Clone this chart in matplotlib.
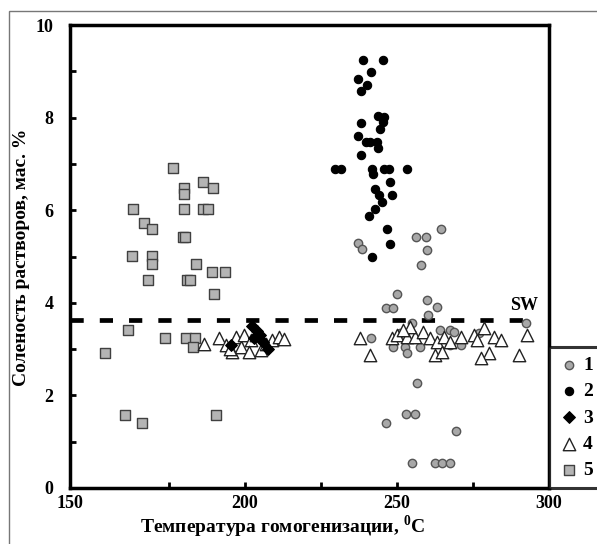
import matplotlib
matplotlib.use('Agg')
import matplotlib.pyplot as plt
from matplotlib.patches import Rectangle

plt.rcParams['font.family'] = ['Liberation Serif', 'DejaVu Serif']
plt.rcParams['font.weight'] = 'bold'
plt.rcParams['mathtext.fontset'] = 'custom'
plt.rcParams['mathtext.rm'] = 'Liberation Serif:bold'
plt.rcParams['mathtext.bf'] = 'Liberation Serif:bold'

# 1 - серые кружки
t1 = [237.2, 238.5, 256.3, 259.4, 264.6, 259.8, 257.8, 249.9, 246.4, 248.8, 259.8, 263.3,
      260.2, 292.3, 241.4, 256.7, 253.0, 256.0, 246.4, 269.5, 254.9, 262.4, 264.7, 267.3,
      248.8, 252.6, 253.2, 257.6, 251.0, 264.2, 267.5, 254.9, 268.6, 270.9, 276.9, 267.5]
s1 = [5.29, 5.16, 5.42, 5.42, 5.59, 5.15, 4.82, 4.20, 3.89, 3.89, 4.05, 3.90,
      3.74, 3.57, 3.23, 2.26, 1.59, 1.59, 1.41, 1.24, 0.53, 0.53, 0.53, 0.53,
      3.05, 3.05, 2.91, 3.05, 3.34, 3.41, 3.41, 3.56, 3.38, 3.09, 3.34, 3.09]

# 2 - чёрные кружки
t2 = [238.8, 245.5, 241.4, 237.0, 240.0, 238.3, 243.6, 245.7, 245.3, 238.3, 244.4, 237.0,
      239.7, 241.1, 243.5, 243.6, 238.3, 229.5, 231.5, 241.6, 245.7, 247.5, 253.4, 242.2,
      247.7, 242.7, 244.0, 248.2, 244.9, 242.7, 240.7, 246.8, 247.7, 241.6]
s2 = [9.24, 9.24, 8.98, 8.83, 8.70, 8.57, 8.03, 8.02, 7.90, 7.88, 7.76, 7.61,
      7.48, 7.48, 7.48, 7.35, 7.19, 6.90, 6.90, 6.90, 6.90, 6.90, 6.90, 6.78,
      6.61, 6.46, 6.33, 6.33, 6.18, 6.03, 5.88, 5.59, 5.28, 5.00]

# 3 - чёрные ромбы
t3 = [202.2, 204.0, 205.0, 203.0, 206.0, 207.4, 195.5]
s3 = [3.50, 3.40, 3.30, 3.25, 3.15, 3.00, 3.08]

# 4 - белые треугольники
t4 = [186.4, 191.4, 193.6, 196.9, 198.6, 199.7, 201.9, 203.5, 195.8, 201.3, 205.2, 209.0,
      211.3, 194.9, 206.9, 212.9,
      237.7, 241.1, 248.2, 249.9, 253.2, 256.0, 258.7, 260.9, 263.1, 265.3, 267.5, 262.6,
      264.8, 254.3, 252.1, 270.9, 275.3, 278.6, 281.9, 284.1, 280.2, 277.5, 292.9, 290.2,
      276.4]
s4 = [3.12, 3.23, 3.09, 3.27, 3.05, 3.30, 3.20, 3.30, 2.94, 2.94, 2.98, 3.20,
      3.27, 3.00, 3.12, 3.21,
      3.23, 2.87, 3.23, 3.30, 3.27, 3.27, 3.38, 3.23, 3.16, 3.27, 3.16, 2.87,
      2.94, 3.48, 3.41, 3.27, 3.30, 3.45, 3.27, 3.20, 2.91, 2.80, 3.30, 2.87,
      3.20]

# 5 - серые квадраты
t5 = [176.2, 179.9, 179.9, 186.2, 189.3, 163.2, 179.9, 186.2, 187.9, 166.7, 169.4, 179.5,
      180.3, 162.7, 169.4, 169.4, 183.9, 189.0, 193.4, 168.2, 180.9, 182.0, 189.7, 161.6,
      173.5, 180.7, 183.4, 182.8, 154.0, 160.5, 166.2, 190.3]
s5 = [6.91, 6.49, 6.34, 6.60, 6.47, 6.03, 6.03, 6.03, 6.03, 5.73, 5.59, 5.43,
      5.43, 5.01, 5.01, 4.83, 4.83, 4.67, 4.67, 4.49, 4.49, 4.49, 4.20, 3.41,
      3.23, 3.23, 3.23, 3.05, 2.92, 1.58, 1.41, 1.58]

sw_level = 3.63

fig = plt.figure(figsize=(5.97, 5.44), dpi=100)
ax = fig.add_axes([70/597, 56/544, 479/597, 463/544])

ax.axhline(sw_level, xmin=0, xmax=0.967, color='black', lw=3.4, dashes=(2.8, 3.4), zorder=1)
ax.text(291.7, 3.95, 'SW', ha='center', va='center', fontsize=13, fontweight='bold')

ax.scatter(t5, s5, marker='s', s=60, facecolor='#b4b4b4', edgecolor='#404040', lw=1.0, zorder=2, label='5')
ax.scatter(t1, s1, marker='o', s=36, facecolor='#a8a8a8', edgecolor='#555555', lw=1.0, zorder=3, label='1')
ax.scatter(t4, s4, marker='^', s=80, facecolor='white', edgecolor='#222222', lw=1.0, zorder=3, label='4')
ax.scatter(t2, s2, marker='o', s=36, facecolor='black', edgecolor='black', lw=0.8, zorder=4, label='2')
ax.scatter(t3, s3, marker='D', s=36, facecolor='black', edgecolor='black', lw=0.8, zorder=4, label='3')

ax.set_xlim(142.4, 300)
ax.set_ylim(0, 10)
ax.set_xticks([142.4, 200, 250, 300])
ax.set_xticklabels(['150', '200', '250', '300'], fontsize=13, fontweight='bold')
ax.set_xticks([175, 225, 275], minor=True)
ax.set_yticks([0, 2, 4, 6, 8, 10])
ax.set_yticklabels(['0', '2', '4', '6', '8', '10'], fontsize=13, fontweight='bold')
ax.set_yticks([1, 3, 5, 7, 9], minor=True)
ax.tick_params(axis='both', which='both', direction='in', length=4, width=2)
ax.tick_params(axis='y', pad=12)
ax.tick_params(axis='x', pad=5)
for sp in ax.spines.values():
    sp.set_linewidth(2.5)

handles, labels = ax.get_legend_handles_labels()
order = [labels.index(k) for k in ['1', '2', '3', '4', '5']]
leg = ax.legend([handles[i] for i in order], [labels[i] for i in order],
                loc='lower left', bbox_to_anchor=(1.0, 0.0), borderaxespad=0,
                frameon=True, fancybox=False, handletextpad=0.1,
                handlelength=1.2, labelspacing=0.45, borderpad=0.45,
                prop={'weight': 'bold', 'size': 14})
leg.get_frame().set_edgecolor('black')
leg.get_frame().set_linewidth(2.2)

fig.text(283/597, 1 - 527/544, r'Температура гомогенизации, $^{0}$C',
         ha='center', va='center', fontsize=14, fontweight='bold')
fig.text(22/597, 1 - 257/544, 'Соленость растворов, мас. %', rotation=90,
         ha='center', va='center', fontsize=14, fontweight='bold')

fig.patches.append(Rectangle((9/597, -0.01), 1.0, 1 - 11/544 + 0.01, transform=fig.transFigure,
                             fill=False, edgecolor='#777777', lw=1.0))

fig.savefig('out.png', dpi=100)
